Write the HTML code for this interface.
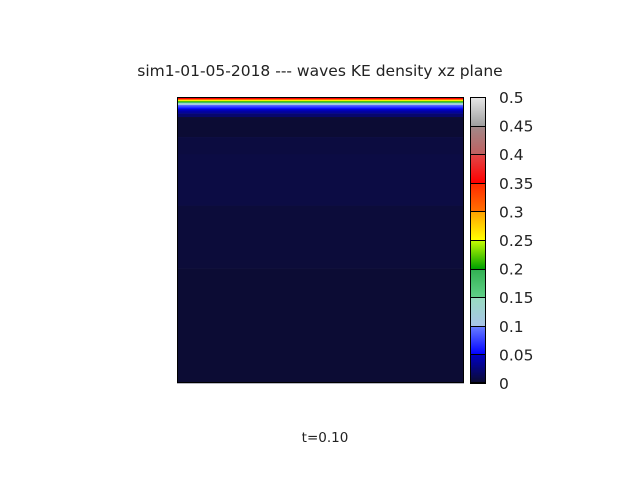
<!DOCTYPE html>
<html><head><meta charset="utf-8"><style>
body{margin:0;background:#fff;}
svg{display:block;font-family:"DejaVu Sans","Liberation Sans",sans-serif;}
</style></head><body>
<svg id="chart" width="640" height="480">
<text x="320" y="76" text-anchor="middle" font-size="15.5" fill="#222">sim1-01-05-2018 --- waves KE density xz plane</text>
<g id="plot"></g>
<rect x="177.5" y="97.5" width="286" height="285" fill="none" stroke="#000"/>
<g id="cbar"></g>
<rect x="470.5" y="97.5" width="15" height="285" fill="none" stroke="#000"/>
<g id="cticks"></g>
<text x="325" y="442" text-anchor="middle" font-size="13.5" fill="#222">t=0.10</text>
</svg>
<script>
// Depth profile (fraction of plot height from top) and KE density values
const depthEdges=[0,0.0035,0.007,0.0105,0.014,0.0175,0.021,0.0245,0.028,0.033,0.038,0.043,0.05,0.058,0.07,0.14,0.2,0.38,0.6,1.0];
const keValues=[0.42,0.35,0.30,0.26,0.22,0.18,0.14,0.11,0.09,0.07,0.055,0.045,0.035,0.02,0.006,0.012,0.014,0.009,0.006];
const cbTicks=[0,0.05,0.1,0.15,0.2,0.25,0.3,0.35,0.4,0.45,0.5];
const cbTickLabels=["0","0.05","0.1","0.15","0.2","0.25","0.3","0.35","0.4","0.45","0.5"];
const vmin=0,vmax=0.5;
const P={x:177,y:97,w:287,h:286}, C={x:470,y:97,w:16,h:286};
const segs=[["#0b0b2e","#0000c8"],["#0000ff","#6a80ff"],["#a8c4e8","#98dcc0"],["#60d088","#30b050"],["#00a000","#c8ff00"],["#ffff00","#ffa000"],["#ff7000","#ff2800"],["#ff0000","#e04848"],["#c06060","#a08a8a"],["#a0a0a0","#e8e8e8"]];
function hx(c){return [1,3,5].map(i=>parseInt(c.substr(i,2),16));}
function color(v){let t=Math.max(0,Math.min(0.99999,(v-vmin)/(vmax-vmin)))*10;let i=Math.floor(t),f=t-i;
 const a=hx(segs[i][0]),b=hx(segs[i][1]);return "rgb("+a.map((x,k)=>Math.round(x+(b[k]-x)*f)).join(",")+")";}
function yScale(d){return P.y+d*P.h;}
function cbY(v){return C.y+C.h-(v-vmin)/(vmax-vmin)*C.h;}
const ns="http://www.w3.org/2000/svg";
const plot=document.getElementById('plot');
for(let i=0;i<keValues.length;i++){
 const r=document.createElementNS(ns,'rect');
 
 
 const y0=yScale(depthEdges[i]),y1=yScale(depthEdges[i+1]);
 r.setAttribute('x',P.x);r.setAttribute('y',y0);r.setAttribute('width',P.w);r.setAttribute('height',y1-y0+0.3);
 let v=keValues[i];
 r.setAttribute('fill',v<0.02?"rgb(12,12,"+Math.round(40+v*2000)+")":color(v));
 plot.appendChild(r);
}
const cb=document.getElementById('cbar');
for(let py=0;py<C.h;py++){
 const v=vmax-(py+0.5)/C.h*(vmax-vmin);
 const r=document.createElementNS(ns,'rect');
 
 
 r.setAttribute('x',C.x);r.setAttribute('y',C.y+py);r.setAttribute('width',C.w);r.setAttribute('height',1.2);r.setAttribute('fill',color(v));
 cb.appendChild(r);
}
const ct=document.getElementById('cticks');
cbTicks.forEach((v,i)=>{
 const y=cbY(v);
 const l=document.createElementNS(ns,'line');
 
 
 l.setAttribute('x1',C.x);l.setAttribute('x2',C.x+C.w);l.setAttribute('y1',Math.round(y)+0.5);l.setAttribute('y2',Math.round(y)+0.5);l.setAttribute('stroke','#000');
 ct.appendChild(l);
 const t=document.createElementNS(ns,'text');
 
 
 t.setAttribute('x',499);t.setAttribute('y',y+6);t.setAttribute('font-size','15.5');t.setAttribute('fill','#222');
 t.textContent=cbTickLabels[i];ct.appendChild(t);
});
</script>
</body></html>
